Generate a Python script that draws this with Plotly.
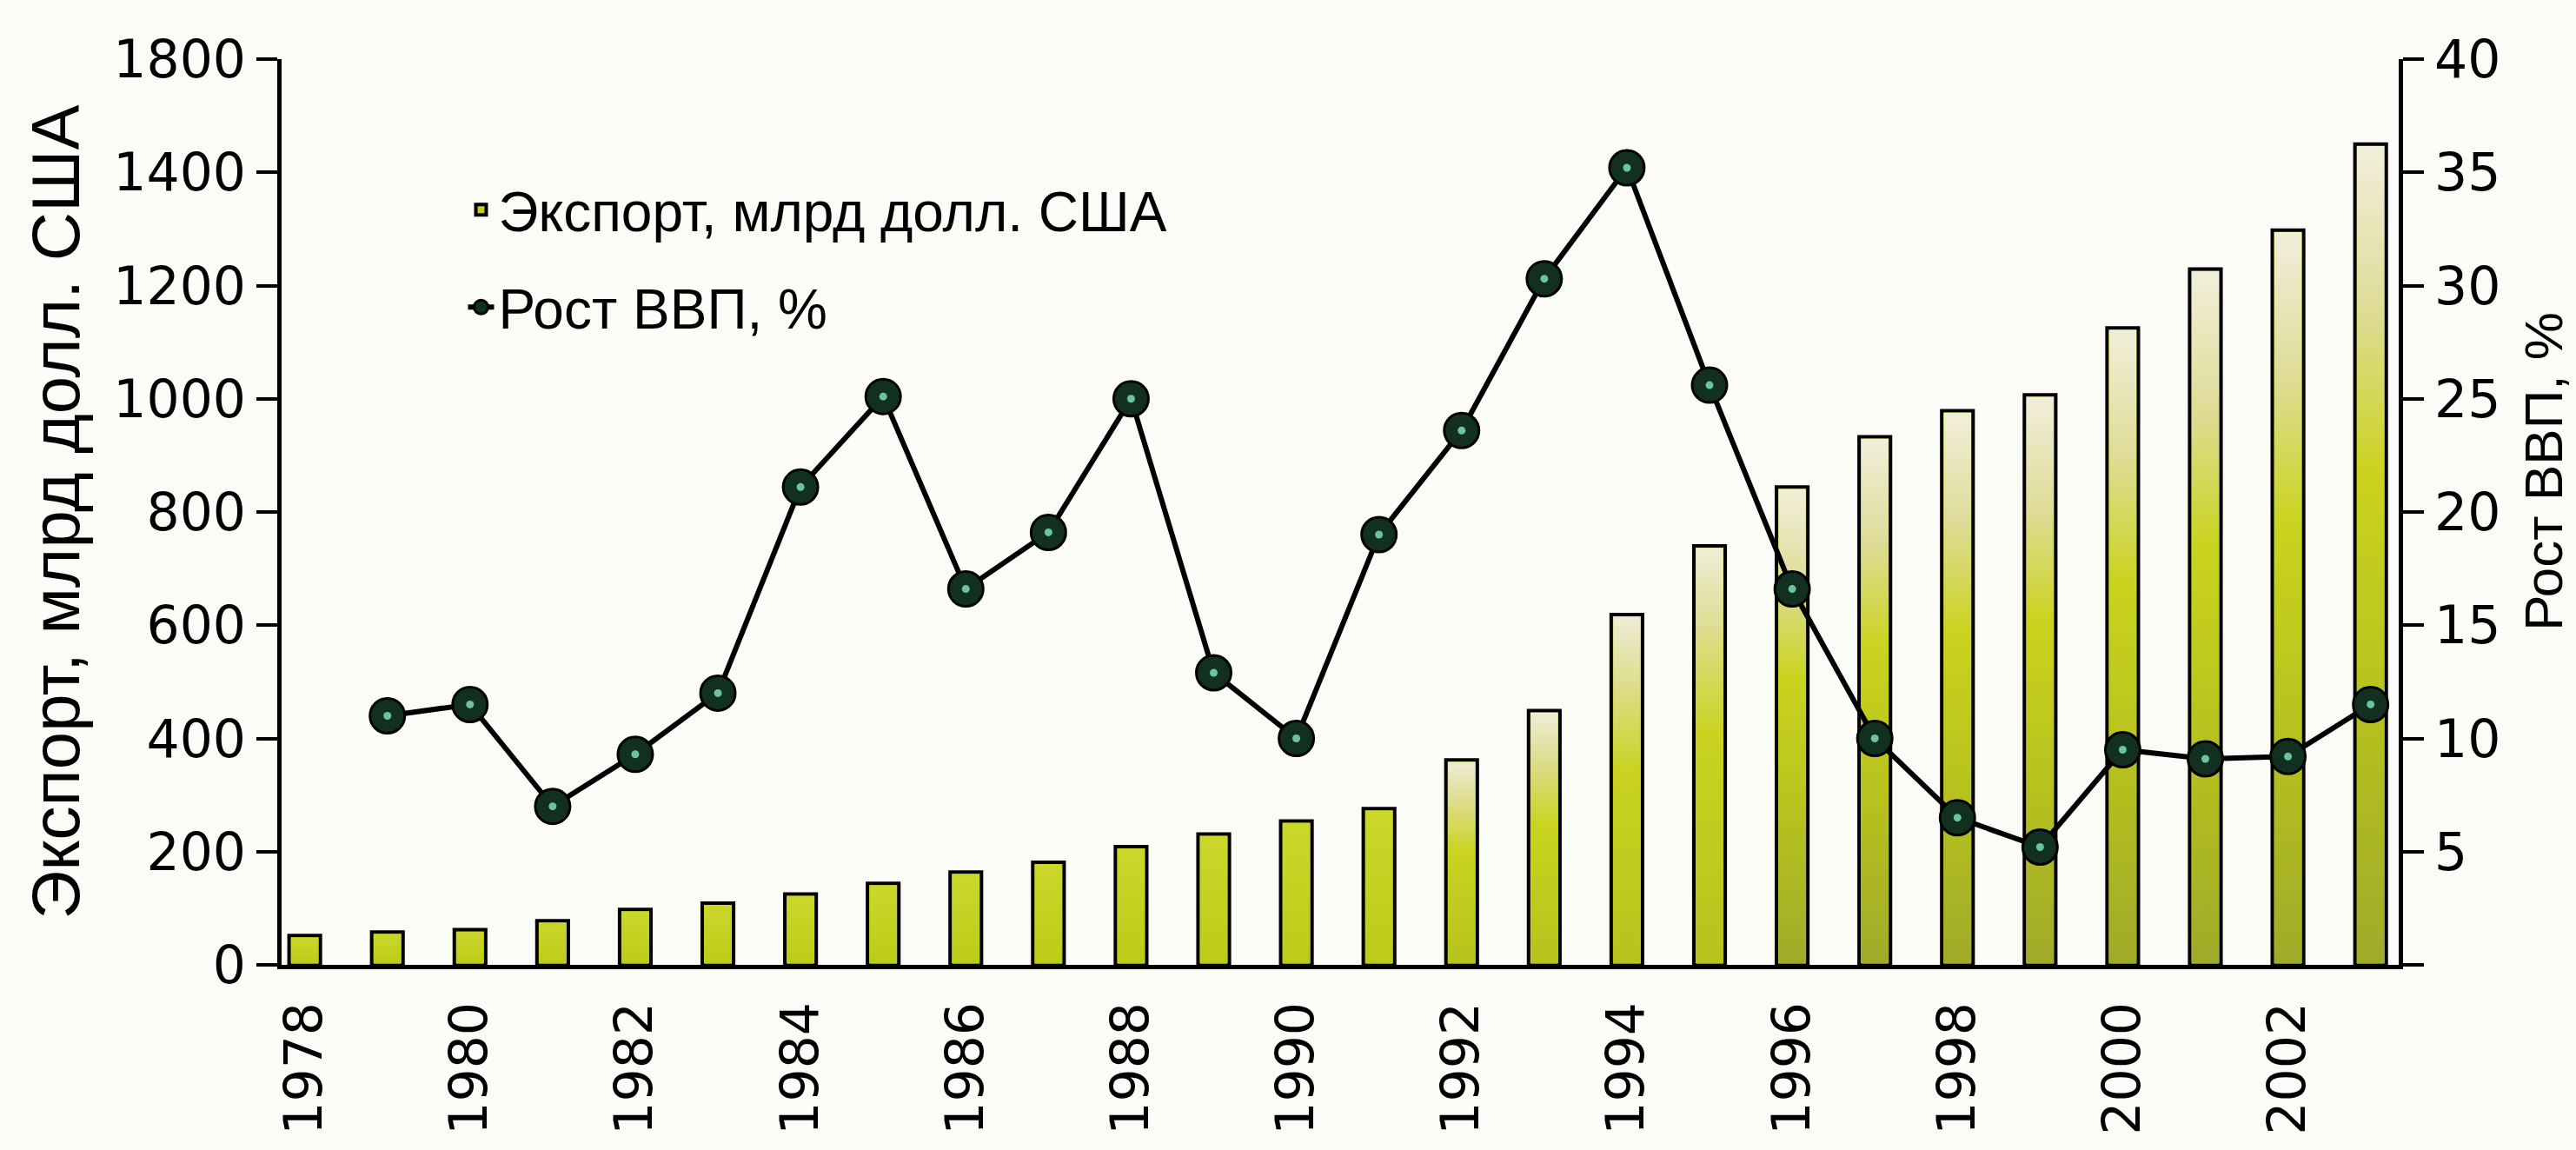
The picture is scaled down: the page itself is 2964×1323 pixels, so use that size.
import plotly.graph_objects as go

# Export volume, bn USD (bars, left axis)
years = list(range(1978, 2004))
export_bn = [52, 58, 62, 78, 98, 109, 125, 144, 164, 181, 209, 231, 254,
             276, 362, 449, 619, 740, 844, 933, 979, 1007, 1125, 1229, 1298, 1450]

# GDP growth, % (line, right axis)
gdp_years = list(range(1979, 2004))
gdp_growth = [11.0, 11.5, 7.0, 9.3, 12.0, 21.1, 25.1, 16.6, 19.1, 25.0, 12.9,
              10.0, 19.0, 23.6, 30.3, 35.2, 25.6, 16.6, 10.0, 6.5, 5.2, 9.5,
              9.1, 9.2, 11.5]

left_ticks = [0, 200, 400, 600, 800, 1000, 1200, 1400, 1600]
left_labels = ["0", "200", "400", "600", "800", "1000", "1200", "1400", "1800"]
right_ticks = [0, 5, 10, 15, 20, 25, 30, 35, 40]
right_labels = ["", "5", "10", "15", "20", "25", "30", "35", "40"]
year_ticks = list(range(1978, 2004, 2))

TICK_FONT = dict(family="DejaVu Sans", size=60, color="black")
TEXT_FONT = "Liberation Sans"
BAR_WIDTH = 0.38
INNER_HALF = 0.165  # half width of the shaded interior, inside the outline


def bar_shading(v):
    """Vertical colour ramp for one bar: olive base, yellow body, pale top."""
    if v < 300:
        return [[0, "#bccb1a"], [1, "#cbd82a"]]
    if v < 800:
        return [[0, "#b6c31c"], [0.55, "#c9d320"], [0.8, "#dedd8e"], [1, "#efedd8"]]
    return [[0, "#a0aa2a"], [0.3, "#b6c11e"], [0.6, "#cad31e"],
            [0.8, "#dfdc98"], [1, "#f1efdc"]]


fig = go.Figure()

fig.add_trace(go.Bar(
    x=years, y=export_bn, name="Экспорт, млрд долл. США",
    width=BAR_WIDTH,
    marker=dict(color="#c2cd1e", line=dict(color="black", width=4)),
    legendgroup="a",
))

# graded fill inside each bar
for x, v in zip(years, export_bn):
    fig.add_trace(go.Scatter(
        x=[x - INNER_HALF, x + INNER_HALF, x + INNER_HALF, x - INNER_HALF, x - INNER_HALF],
        y=[2, 2, v - 3.5, v - 3.5, 2],
        fill="toself", mode="none",
        fillgradient=dict(type="vertical", colorscale=bar_shading(v), start=0, stop=v),
        showlegend=False, hoverinfo="skip",
    ))

fig.add_trace(go.Scatter(
    x=gdp_years, y=gdp_growth, name="Рост ВВП, %", yaxis="y2",
    mode="lines+markers",
    line=dict(color="black", width=6),
    marker=dict(size=40, color="#12301f", line=dict(color="black", width=3)),
    legendgroup="b",
))

# small glint in the centre of each point
fig.add_trace(go.Scatter(
    x=gdp_years, y=gdp_growth, yaxis="y2", mode="markers",
    marker=dict(size=9, color="#6cc2a6"), showlegend=False, hoverinfo="skip",
))

fig.update_layout(
    width=2964, height=1323,
    margin=dict(l=324, r=204, t=68, b=213),
    paper_bgcolor="#fbfbf8", plot_bgcolor="#fbfbf8",
    showlegend=True,
    legend=dict(
        x=0.086, y=0.88, xanchor="left", yanchor="top",
        bgcolor="rgba(0,0,0,0)",
        font=dict(family=TEXT_FONT, size=64, color="black"),
        traceorder="grouped", tracegroupgap=26,
    ),
    xaxis=dict(
        range=[1977.72, 2003.34],
        tickmode="array", tickvals=year_ticks,
        ticktext=[str(y) for y in year_ticks],
        tickangle=-90, tickfont=TICK_FONT, ticklabelstandoff=14,
        ticks="", showgrid=False, zeroline=False,
        showline=True, linecolor="black", linewidth=5,
    ),
    yaxis=dict(
        range=[0, 1600],
        tickmode="array", tickvals=left_ticks, ticktext=left_labels,
        tickfont=TICK_FONT, ticks="outside", ticklen=24, tickwidth=4,
        tickcolor="black", showgrid=False, zeroline=False,
        showline=True, linecolor="black", linewidth=5,
        title=dict(text="Экспорт, млрд долл. США",
                   font=dict(family=TEXT_FONT, size=78, color="black"),
                   standoff=14),
    ),
    yaxis2=dict(
        range=[0, 40], overlaying="y", side="right",
        tickmode="array", tickvals=right_ticks, ticktext=right_labels,
        tickfont=TICK_FONT, ticks="outside", ticklen=24, tickwidth=4,
        tickcolor="black", showgrid=False, zeroline=False,
        showline=True, linecolor="black", linewidth=5,
    ),
    annotations=[dict(
        text="Рост ВВП, %", xref="paper", yref="paper",
        x=1.068, y=0.545, xanchor="center", yanchor="middle",
        textangle=-90, showarrow=False,
        font=dict(family=TEXT_FONT, size=62, color="black"),
    )],
)

fig.write_html("out.html")
